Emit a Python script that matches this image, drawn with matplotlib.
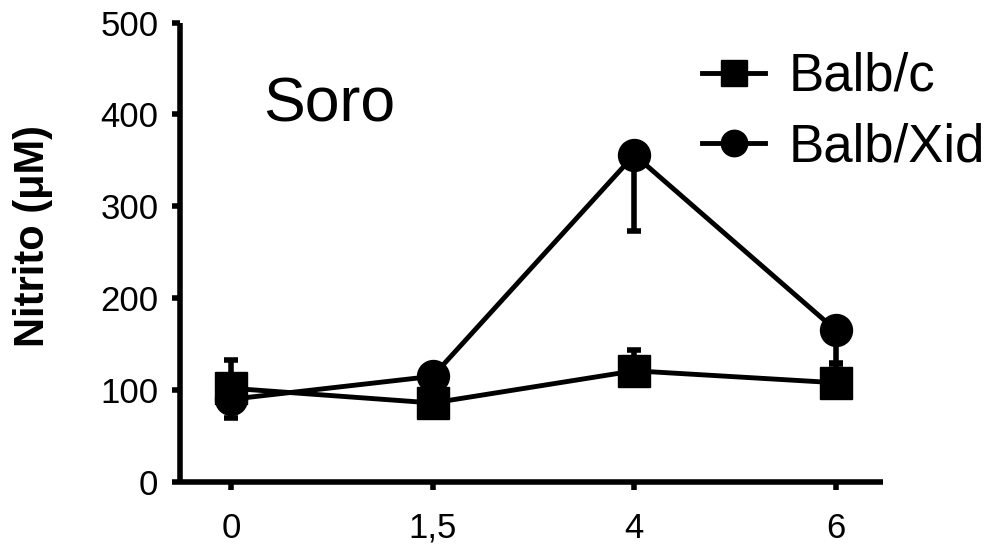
import matplotlib
matplotlib.use("Agg")
import matplotlib.pyplot as plt
from matplotlib.lines import Line2D
import numpy as np

plt.rcParams['font.family'] = ['Liberation Sans', 'DejaVu Sans']

categories = ["0", "1,5", "4", "6"]
balbc = [102, 86, 121, 108]
balbc_err_up = [31, 5, 23, 20]
balbxid = [90, 115, 356, 165]
balbxid_err_down = [20, 5, 83, 35]
yticks = [0, 100, 200, 300, 400, 500]

W, H = 997, 545
fig = plt.figure(figsize=(W / 100, H / 100), dpi=100)
left, right, bottom, top = 180, 883, 482, 22.5
ax = fig.add_axes([left / W, 1 - bottom / H, (right - left) / W, (bottom - top) / H])

x = np.arange(len(categories))
zeros = [0] * len(categories)

lw = 3.5
ax.errorbar(x, balbc, yerr=[zeros, balbc_err_up], color='black', lw=lw,
            marker='s', markersize=23, capsize=5, capthick=4, elinewidth=4,
            clip_on=False, zorder=3)
ax.errorbar(x, balbxid, yerr=[balbxid_err_down, zeros], color='black', lw=lw,
            marker='o', markersize=23, capsize=5, capthick=4, elinewidth=4,
            clip_on=False, zorder=3)

ax.set_xlim(-0.253, 3.233)
ax.set_ylim(0, 500)
ax.set_xticks(x)
ax.set_xticklabels(categories, fontsize=25)
ax.set_yticks(yticks)
ax.set_yticklabels([str(v) for v in yticks], fontsize=25)

for s in ['top', 'right']:
    ax.spines[s].set_visible(False)
for s in ['left', 'bottom']:
    ax.spines[s].set_linewidth(4)
    ax.spines[s].set_capstyle('butt')
ax.tick_params(axis='both', direction='out', length=5.5, width=4)
ax.tick_params(axis='x', pad=16)
ax.tick_params(axis='y', pad=10)

fig.text(33 / W, 1 - 236 / H, 'Nitrito (\u03bcM)', rotation=90, fontsize=30,
         fontweight='bold', ha='center', va='center')

fig.text(263 / W, 1 - 122 / H, 'Soro', fontsize=45, ha='left', va='baseline')

handles = [
    Line2D([], [], color='black', lw=3.5, marker='s', markersize=19),
    Line2D([], [], color='black', lw=3.5, marker='o', markersize=19),
]
ax.legend(handles, ['Balb/c', 'Balb/Xid'], loc='center left',
          bbox_to_anchor=(702 / W, 1 - 112 / H), bbox_transform=fig.transFigure,
          frameon=False, fontsize=38, handlelength=1.2, handletextpad=0.45,
          labelspacing=0.38, borderpad=0, borderaxespad=0)

fig.savefig('out.png', dpi=100)
